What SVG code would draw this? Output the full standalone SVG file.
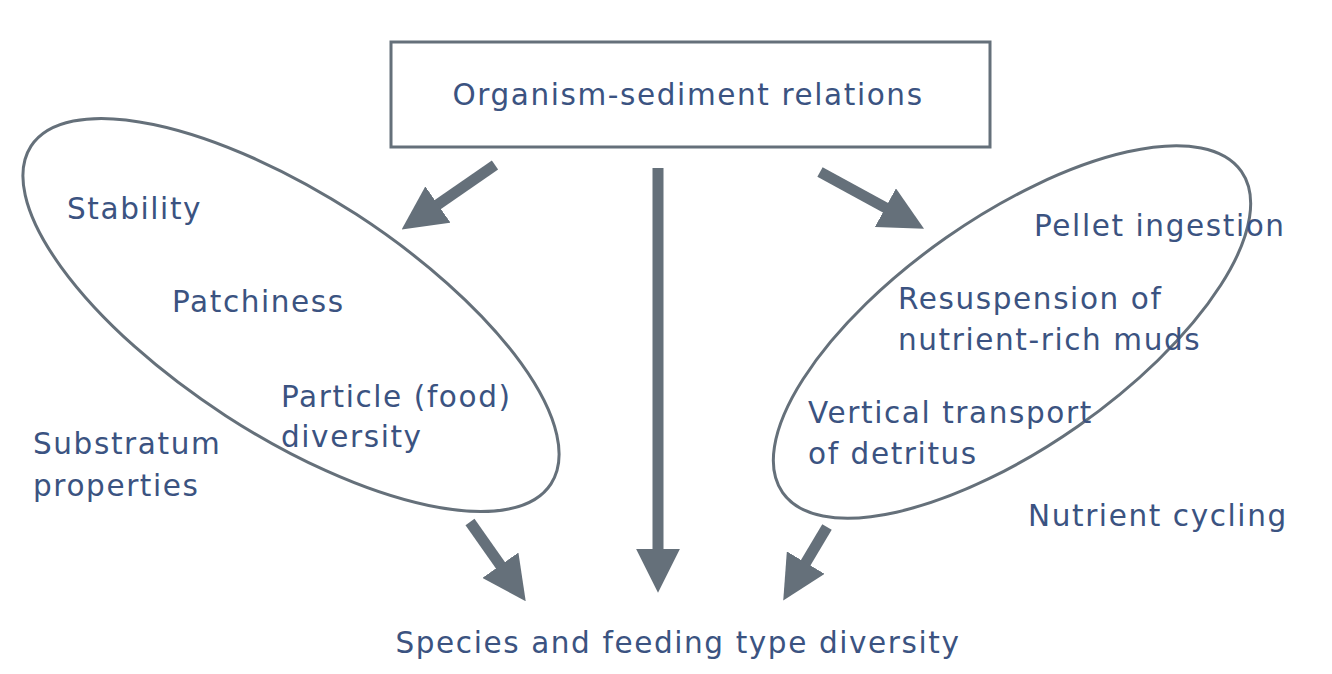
<svg xmlns="http://www.w3.org/2000/svg" width="1332" height="674" viewBox="0 0 1332 674">
<style>
text{font-family:"DejaVu Sans",sans-serif;font-size:29.5px;letter-spacing:1.6px;fill:#3b5381}
.sh{fill:none;stroke:#65707a;stroke-width:3}
.ar{stroke:#65707a;stroke-width:11;fill:none}
</style>
<defs><marker id="h" viewBox="0 0 10 10" refX="3" refY="5" markerWidth="4" markerHeight="4" orient="auto" markerUnits="strokeWidth"><path d="M0,0L10,5L0,10z" fill="#65707a"/></marker></defs>
<rect width="1332" height="674" fill="#fff"/>
<g id="top"><rect x="391" y="42" width="599" height="105" class="sh" stroke-width="4"/><text x="688" y="105" text-anchor="middle">Organism-sediment relations</text></g>
<g id="left"><ellipse cx="291" cy="315" rx="310" ry="120" transform="rotate(33 291 315)" class="sh"/>
<text x="67" y="219">Stability</text><text x="172" y="312">Patchiness</text><text x="281" y="407">Particle (food)</text><text x="281" y="447">diversity</text>
<text x="33" y="454">Substratum</text><text x="33" y="496">properties</text></g>
<g id="right"><ellipse cx="1012" cy="332" rx="280" ry="115" transform="rotate(-35 1012 332)" class="sh"/>
<text x="1034" y="236">Pellet ingestion</text><text x="898" y="309">Resuspension of</text><text x="898" y="350">nutrient-rich muds</text>
<text x="808" y="423">Vertical transport</text><text x="808" y="464">of detritus</text><text x="1028" y="526">Nutrient cycling</text></g>
<g id="bottom"><text x="678" y="653" text-anchor="middle">Species and feeding type diversity</text></g>
<g id="connectors">
<line x1="495" y1="165" x2="427" y2="212" class="ar" marker-end="url(#h)"/>
<line x1="658" y1="168" x2="658" y2="562" class="ar" marker-end="url(#h)"/>
<line x1="820" y1="172" x2="897" y2="214" class="ar" marker-end="url(#h)"/>
<line x1="470" y1="522" x2="508" y2="576" class="ar" marker-end="url(#h)"/>
<line x1="827" y1="527" x2="799" y2="574" class="ar" marker-end="url(#h)"/>
</g>
</svg>
